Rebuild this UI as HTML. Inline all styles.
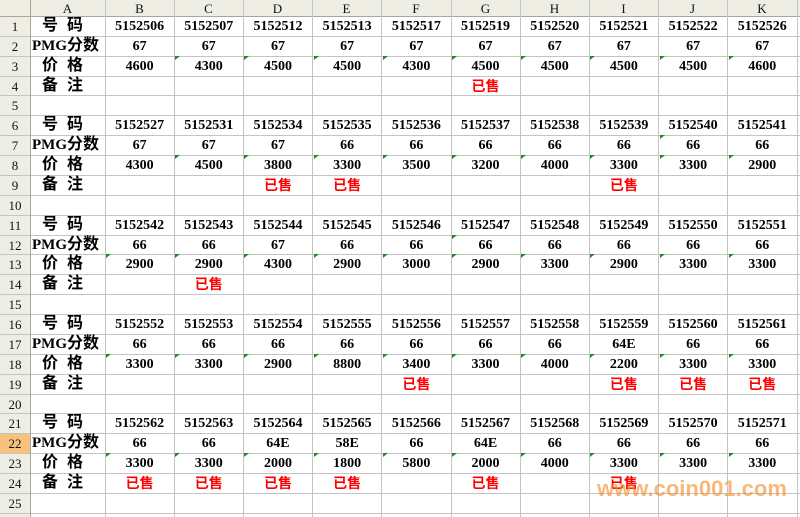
<!DOCTYPE html>
<html>
<head>
<meta charset="utf-8">
<style>
html,body{margin:0;padding:0}
*{box-sizing:border-box}
body{width:800px;height:517px;overflow:hidden;background:#fff;position:relative;font-family:"Liberation Serif","Noto Serif CJK SC",serif}
.ch{position:absolute;left:0;top:0;width:800px;height:16px;background:#efeee4}
.rh{position:absolute;left:0;top:16px;width:30px;height:501px;background:#efeee4}
.hl{position:absolute;left:0;width:800px;height:1px;background:#c4c4c4}
.vl{position:absolute;top:0;width:1px;height:517px;background:#c4c4c4}
.cl{position:absolute;top:0;height:16px;line-height:17px;text-align:center;font-size:13px;color:#111}
.rn{position:absolute;left:0;width:30px;height:20px;line-height:21px;text-align:center;font-size:13px;color:#111}
.r{position:absolute;left:30px;height:20px;display:flex;font-weight:bold;font-size:14px;color:#000}
.r>span{flex:none;width:69.2px;text-align:center;line-height:21px;position:relative;white-space:nowrap}
.r>span.a{width:75px;text-align:left;overflow:hidden;font-family:"Liberation Serif","Noto Sans CJK SC",sans-serif;font-size:16px;line-height:20px}
.lab{padding-left:12px;letter-spacing:9px}
.pmg{padding-left:2px;letter-spacing:0}
.pmg b{font-family:"Liberation Serif",serif;font-size:15px}
.s{color:#f00;font-family:"Noto Sans CJK SC",sans-serif;font-size:14px;line-height:20px!important}
.t::before{content:"";position:absolute;left:1px;top:0;border-top:4px solid #1f8a1f;border-right:5px solid transparent}
.wm{position:absolute;left:597px;top:477px;font:bold 22px "Liberation Sans",sans-serif;color:rgba(243,140,40,0.62);line-height:24px;white-space:nowrap}
</style>
</head>
<body>
<div class="ch"></div>
<div class="rh"></div>
<div style="position:absolute;left:0;top:433px;width:30px;height:20px;background:#f8c27c"></div>

<!-- horizontal lines -->
<div class="hl" style="top:16px;background:#a9a898"></div>
<div class="hl" style="top:36px"></div>
<div class="hl" style="top:56px"></div>
<div class="hl" style="top:76px"></div>
<div class="hl" style="top:95px"></div>
<div class="hl" style="top:115px"></div>
<div class="hl" style="top:135px"></div>
<div class="hl" style="top:155px"></div>
<div class="hl" style="top:175px"></div>
<div class="hl" style="top:195px"></div>
<div class="hl" style="top:215px"></div>
<div class="hl" style="top:235px"></div>
<div class="hl" style="top:254px"></div>
<div class="hl" style="top:274px"></div>
<div class="hl" style="top:294px"></div>
<div class="hl" style="top:314px"></div>
<div class="hl" style="top:334px"></div>
<div class="hl" style="top:354px"></div>
<div class="hl" style="top:374px"></div>
<div class="hl" style="top:394px"></div>
<div class="hl" style="top:413px"></div>
<div class="hl" style="top:433px"></div>
<div class="hl" style="top:453px"></div>
<div class="hl" style="top:473px"></div>
<div class="hl" style="top:493px"></div>
<div class="hl" style="top:513px"></div>

<!-- vertical lines -->
<div class="vl" style="left:30px;background:#a9a898"></div>
<div class="vl" style="left:105px"></div>
<div class="vl" style="left:174px"></div>
<div class="vl" style="left:243px"></div>
<div class="vl" style="left:312px"></div>
<div class="vl" style="left:381px"></div>
<div class="vl" style="left:451px"></div>
<div class="vl" style="left:520px"></div>
<div class="vl" style="left:589px"></div>
<div class="vl" style="left:658px"></div>
<div class="vl" style="left:727px"></div>
<div class="vl" style="left:797px"></div>

<!-- column letters -->
<div class="cl" style="left:30px;width:75px">A</div>
<div class="cl" style="left:105px;width:69px">B</div>
<div class="cl" style="left:174px;width:69px">C</div>
<div class="cl" style="left:243px;width:69px">D</div>
<div class="cl" style="left:312px;width:69px">E</div>
<div class="cl" style="left:381px;width:70px">F</div>
<div class="cl" style="left:451px;width:69px">G</div>
<div class="cl" style="left:520px;width:69px">H</div>
<div class="cl" style="left:589px;width:69px">I</div>
<div class="cl" style="left:658px;width:69px">J</div>
<div class="cl" style="left:727px;width:70px">K</div>

<!-- row numbers -->
<div class="rn" style="top:16px">1</div>
<div class="rn" style="top:36px">2</div>
<div class="rn" style="top:56px">3</div>
<div class="rn" style="top:76px">4</div>
<div class="rn" style="top:95px">5</div>
<div class="rn" style="top:115px">6</div>
<div class="rn" style="top:135px">7</div>
<div class="rn" style="top:155px">8</div>
<div class="rn" style="top:175px">9</div>
<div class="rn" style="top:195px">10</div>
<div class="rn" style="top:215px">11</div>
<div class="rn" style="top:235px">12</div>
<div class="rn" style="top:254px">13</div>
<div class="rn" style="top:274px">14</div>
<div class="rn" style="top:294px">15</div>
<div class="rn" style="top:314px">16</div>
<div class="rn" style="top:334px">17</div>
<div class="rn" style="top:354px">18</div>
<div class="rn" style="top:374px">19</div>
<div class="rn" style="top:394px">20</div>
<div class="rn" style="top:413px">21</div>
<div class="rn" style="top:433px">22</div>
<div class="rn" style="top:453px">23</div>
<div class="rn" style="top:473px">24</div>
<div class="rn" style="top:493px">25</div>

<!-- Block 1 -->
<div class="r" style="top:16px"><span class="a lab">号码</span><span>5152506</span><span>5152507</span><span>5152512</span><span>5152513</span><span>5152517</span><span>5152519</span><span>5152520</span><span>5152521</span><span>5152522</span><span>5152526</span></div>
<div class="r" style="top:36px"><span class="a pmg"><b>PMG</b>分数</span><span>67</span><span>67</span><span>67</span><span>67</span><span>67</span><span>67</span><span>67</span><span>67</span><span>67</span><span>67</span></div>
<div class="r" style="top:56px"><span class="a lab">价格</span><span>4600</span><span class="t">4300</span><span class="t">4500</span><span class="t">4500</span><span class="t">4300</span><span class="t">4500</span><span class="t">4500</span><span class="t">4500</span><span class="t">4500</span><span class="t">4600</span></div>
<div class="r" style="top:76px"><span class="a lab">备注</span><span></span><span></span><span></span><span></span><span></span><span class="s">已售</span><span></span><span></span><span></span><span></span></div>

<!-- Block 2 -->
<div class="r" style="top:115px"><span class="a lab">号码</span><span>5152527</span><span>5152531</span><span>5152534</span><span>5152535</span><span>5152536</span><span>5152537</span><span>5152538</span><span>5152539</span><span>5152540</span><span>5152541</span></div>
<div class="r" style="top:135px"><span class="a pmg"><b>PMG</b>分数</span><span>67</span><span>67</span><span>67</span><span>66</span><span>66</span><span>66</span><span>66</span><span>66</span><span class="t">66</span><span>66</span></div>
<div class="r" style="top:155px"><span class="a lab">价格</span><span>4300</span><span class="t">4500</span><span class="t">3800</span><span class="t">3300</span><span class="t">3500</span><span class="t">3200</span><span class="t">4000</span><span class="t">3300</span><span class="t">3300</span><span class="t">2900</span></div>
<div class="r" style="top:175px"><span class="a lab">备注</span><span></span><span></span><span class="s">已售</span><span class="s">已售</span><span></span><span></span><span></span><span class="s">已售</span><span></span><span></span></div>

<!-- Block 3 -->
<div class="r" style="top:215px"><span class="a lab">号码</span><span>5152542</span><span>5152543</span><span>5152544</span><span>5152545</span><span>5152546</span><span>5152547</span><span>5152548</span><span>5152549</span><span>5152550</span><span>5152551</span></div>
<div class="r" style="top:235px"><span class="a pmg"><b>PMG</b>分数</span><span>66</span><span>66</span><span>67</span><span>66</span><span>66</span><span class="t">66</span><span>66</span><span>66</span><span>66</span><span>66</span></div>
<div class="r" style="top:254px"><span class="a lab">价格</span><span class="t">2900</span><span class="t">2900</span><span class="t">4300</span><span class="t">2900</span><span class="t">3000</span><span class="t">2900</span><span class="t">3300</span><span class="t">2900</span><span class="t">3300</span><span class="t">3300</span></div>
<div class="r" style="top:274px"><span class="a lab">备注</span><span></span><span class="s">已售</span><span></span><span></span><span></span><span></span><span></span><span></span><span></span><span></span></div>

<!-- Block 4 -->
<div class="r" style="top:314px"><span class="a lab">号码</span><span>5152552</span><span>5152553</span><span>5152554</span><span>5152555</span><span>5152556</span><span>5152557</span><span>5152558</span><span>5152559</span><span>5152560</span><span>5152561</span></div>
<div class="r" style="top:334px"><span class="a pmg"><b>PMG</b>分数</span><span>66</span><span>66</span><span>66</span><span>66</span><span>66</span><span>66</span><span>66</span><span>64E</span><span>66</span><span>66</span></div>
<div class="r" style="top:354px"><span class="a lab">价格</span><span class="t">3300</span><span class="t">3300</span><span class="t">2900</span><span class="t">8800</span><span class="t">3400</span><span class="t">3300</span><span class="t">4000</span><span class="t">2200</span><span class="t">3300</span><span class="t">3300</span></div>
<div class="r" style="top:374px"><span class="a lab">备注</span><span></span><span></span><span></span><span></span><span class="s">已售</span><span></span><span></span><span class="s">已售</span><span class="s">已售</span><span class="s">已售</span></div>

<!-- Block 5 -->
<div class="r" style="top:413px"><span class="a lab">号码</span><span>5152562</span><span>5152563</span><span>5152564</span><span>5152565</span><span>5152566</span><span>5152567</span><span>5152568</span><span>5152569</span><span>5152570</span><span>5152571</span></div>
<div class="r" style="top:433px"><span class="a pmg"><b>PMG</b>分数</span><span>66</span><span>66</span><span>64E</span><span>58E</span><span>66</span><span>64E</span><span>66</span><span>66</span><span>66</span><span>66</span></div>
<div class="r" style="top:453px"><span class="a lab">价格</span><span class="t">3300</span><span class="t">3300</span><span class="t">2000</span><span class="t">1800</span><span class="t">5800</span><span class="t">2000</span><span class="t">4000</span><span class="t">3300</span><span class="t">3300</span><span class="t">3300</span></div>
<div class="r" style="top:473px"><span class="a lab">备注</span><span class="s">已售</span><span class="s">已售</span><span class="s">已售</span><span class="s">已售</span><span></span><span class="s">已售</span><span></span><span class="s">已售</span><span></span><span></span></div>

<div class="wm">www.coin001.com</div>
</body>
</html>
